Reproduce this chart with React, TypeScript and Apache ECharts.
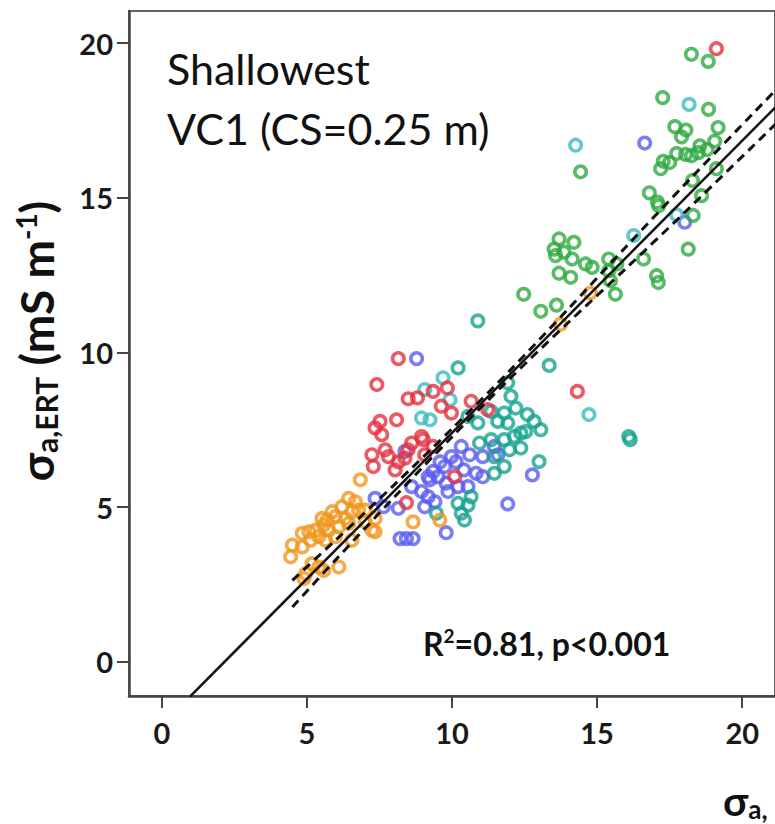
import React, { useEffect, useRef } from "react";
import * as echarts from "echarts";

// ---- data (x = σa,EMI-like axis, y = σa,ERT) ----
const orangePts: [number, number][] = [
  [14.77, 11.92], [13.74, 10.91], [8.66, 4.52], [9.58, 4.58], [6.84, 5.88], [6.44, 5.28],
  [6.67, 5.17], [6.21, 5.01], [5.87, 4.85], [5.98, 4.69], [5.7, 4.58], [5.52, 4.63],
  [6.33, 4.63], [6.55, 4.85], [6.78, 4.9], [7.01, 4.9], [5.58, 4.42], [5.3, 4.25],
  [5.75, 4.25], [6.1, 4.36], [6.44, 4.47], [5.07, 4.2], [4.84, 4.15], [5.13, 3.93],
  [4.84, 3.71], [4.5, 3.77], [4.44, 3.39], [5.41, 4.04], [5.64, 3.93], [5.98, 4.04],
  [7.24, 4.25], [7.35, 4.63], [7.01, 4.52], [5.18, 3.17], [5.41, 3.06], [5.58, 2.95],
  [4.96, 2.85], [4.9, 2.69], [6.1, 3.06], [6.55, 3.93], [7.35, 4.2],
];
const redPts: [number, number][] = [
  [19.11, 19.82], [14.32, 8.74], [11.23, 8.15], [8.15, 9.8], [7.41, 8.96], [8.49, 8.5],
  [8.81, 8.53], [9.35, 8.74], [9.84, 8.85], [9.63, 8.26], [9.98, 8.04], [10.66, 8.42],
  [7.52, 7.77], [8.09, 7.82], [7.35, 7.56], [7.58, 7.34], [7.24, 6.69], [7.7, 6.85],
  [7.29, 6.31], [8.04, 6.2], [8.38, 6.58], [8.15, 6.46], [8.61, 7.07], [9.01, 7.18],
  [9.35, 6.96], [10.09, 5.98], [8.43, 5.14], [7.81, 6.63], [8.95, 7.28], [9.06, 6.69],
  [8.49, 6.85],
];
const bluePts: [number, number][] = [
  [16.64, 16.77], [18.02, 14.21], [8.78, 9.8], [12.77, 6.04], [11.92, 5.1], [10.32, 6.96],
  [10.61, 6.69], [9.98, 6.63], [9.75, 6.31], [9.35, 6.15], [9.52, 5.98], [9.24, 5.88],
  [9.8, 5.77], [10.21, 5.66], [10.55, 5.66], [10.83, 6.09], [11.06, 5.98], [11.06, 6.63],
  [11.46, 6.96], [11.58, 6.69], [8.95, 5.5], [9.18, 5.33], [9.41, 5.17], [9.06, 5.01],
  [9.86, 5.5], [8.61, 5.66], [8.38, 6.8], [7.35, 5.28], [7.64, 5.01], [8.15, 4.96],
  [9.8, 4.17], [8.21, 3.98], [8.43, 3.98], [8.66, 3.98], [9.18, 5.98], [9.59, 6.46],
  [10.14, 6.46], [10.41, 6.2],
];
const tealPts: [number, number][] = [
  [13.35, 9.58], [16.09, 7.28], [16.14, 7.18], [11.92, 9.02], [12.03, 8.58], [12.2, 8.2],
  [11.8, 8.04], [11.58, 7.77], [12.6, 7.99], [12.83, 7.77], [13.06, 7.5], [12.37, 7.39],
  [12.15, 7.28], [10.21, 9.5], [10.89, 11.02], [10.55, 7.93], [10.89, 7.72], [11.35, 8.09],
  [11.92, 7.72], [12.54, 7.44], [10.95, 7.07], [11.35, 7.18], [11.8, 7.18], [11.98, 6.85],
  [12.37, 6.91], [11.46, 6.63], [11.8, 6.31], [11.46, 6.09], [13.0, 6.47], [10.21, 5.12],
  [10.55, 5.06], [10.32, 4.8], [10.43, 4.58], [10.66, 5.33], [9.46, 4.8],
];
const cyanPts: [number, number][] = [
  [14.26, 16.7], [18.17, 18.02], [17.74, 14.45], [16.26, 13.78], [14.72, 7.99],
  [9.69, 9.18], [9.06, 8.8], [8.95, 7.88], [9.24, 7.82], [9.93, 8.47],
];
const greenPts: [number, number][] = [
  [18.25, 19.64], [18.83, 19.41], [17.26, 18.24], [18.84, 17.86], [17.68, 17.3], [18.06, 17.19],
  [17.91, 16.97], [19.17, 17.27], [19.05, 16.83], [18.54, 16.68], [18.79, 16.56], [18.05, 16.4],
  [18.25, 16.36], [17.74, 16.43], [18.49, 16.46], [17.28, 16.18], [17.5, 16.14], [17.19, 15.94],
  [19.11, 15.94], [18.29, 15.56], [16.8, 15.16], [18.6, 15.07], [17.08, 14.86], [17.12, 14.74],
  [14.43, 15.84], [18.31, 14.43], [18.14, 13.34], [13.69, 13.67], [14.2, 13.56], [13.52, 13.34],
  [13.57, 13.13], [13.86, 13.24], [14.14, 13.02], [13.69, 12.56], [14.09, 12.43], [14.6, 12.86],
  [14.83, 12.75], [15.4, 13.02], [15.4, 12.64], [15.68, 12.86], [15.46, 12.32], [15.63, 11.88],
  [16.6, 13.02], [17.05, 12.48], [17.11, 12.26], [12.47, 11.88], [13.06, 11.33], [13.6, 11.53],
];

// regression fit and its confidence band
const fitX = [0.97, 21.2];
const fitY = [-1.13, 17.98];
const bandX = [4.5, 6, 8, 10, 12, 14, 16, 18, 21.2];
const bandUpper = [2.63, 3.94, 5.71, 7.53, 9.42, 11.4, 13.42, 15.41, 18.53];
const bandLower = [1.77, 3.3, 5.31, 7.27, 9.16, 10.96, 12.72, 14.51, 17.43];

const tickValues = [0, 5, 10, 15, 20];

const COLORS = {
  orange: "#f0961e",
  red: "#e6323e",
  blue: "#5a5cf0",
  teal: "#17a290",
  cyan: "#3dbcc0",
  green: "#2eaa40",
};

const FONT = "Lato, 'Open Sans', sans-serif";

function scatter(name: string, pts: [number, number][], color: string) {
  return {
    name,
    type: "scatter",
    data: pts,
    symbol: "circle",
    symbolSize: 11.5,
    silent: true,
    itemStyle: { color: "rgba(0,0,0,0)", borderColor: color, borderWidth: 3.6 },
  };
}

function zip(xs: number[], ys: number[]) {
  return xs.map((x, i) => [x, ys[i]]);
}

export default function App() {
  const ref = useRef<HTMLDivElement>(null);
  useEffect(() => {
    document.body.style.margin = "0";
    const chart = echarts.init(ref.current!, undefined, { renderer: "svg" });
    const axisCommon = {
      type: "value",
      axisLine: { show: true, onZero: false, lineStyle: { color: "#444", width: 2.5 } },
      axisTick: { show: true, length: 12, customValues: tickValues, lineStyle: { color: "#444", width: 2 } },
      splitLine: { show: false },
      axisLabel: {
        customValues: tickValues,
        color: "#1a1a1a",
        fontFamily: FONT,
        fontWeight: "bold",
        fontSize: 29,
      },
    };
    chart.setOption({
      animation: false,
      backgroundColor: "#ffffff",
      grid: {
        left: 129,
        top: 11,
        width: 650,
        height: 685,
        show: true,
        borderColor: "#666",
        borderWidth: 2,
      },
      xAxis: {
        ...axisCommon,
        min: -1.13,
        max: 21.13,
        axisLabel: { ...axisCommon.axisLabel, margin: 22 },
      },
      yAxis: {
        ...axisCommon,
        min: -1.11,
        max: 21.04,
        axisLabel: { ...axisCommon.axisLabel, margin: 16 },
      },
      series: [
        scatter("blue", bluePts, COLORS.blue),
        scatter("teal", tealPts, COLORS.teal),
        scatter("cyan", cyanPts, COLORS.cyan),
        scatter("orange", orangePts, COLORS.orange),
        scatter("red", redPts, COLORS.red),
        scatter("green", greenPts, COLORS.green),
        {
          type: "line",
          data: zip(fitX, fitY),
          showSymbol: false,
          silent: true,
          lineStyle: { color: "#111", width: 2.5 },
        },
        {
          type: "line",
          data: zip(bandX, bandUpper),
          showSymbol: false,
          silent: true,
          smooth: 0.3,
          lineStyle: { color: "#111", width: 3, type: [9, 6] },
        },
        {
          type: "line",
          data: zip(bandX, bandLower),
          showSymbol: false,
          silent: true,
          smooth: 0.3,
          lineStyle: { color: "#111", width: 3, type: [9, 6] },
        },
      ],
      graphic: [
        {
          type: "text",
          x: 167,
          y: 68,
          style: { text: "Shallowest", fontFamily: FONT, fontSize: 43, fill: "#111", verticalAlign: "middle" },
        },
        {
          type: "text",
          x: 167,
          y: 128,
          style: { text: "VC1 (CS=0.25 m)", fontFamily: FONT, fontSize: 43, fill: "#111", verticalAlign: "middle" },
        },
        {
          type: "text",
          x: 423,
          y: 643,
          style: {
            text: "{m|R}{sup|2}{m|=0.81, p<0.001}",
            fill: "#111",
            verticalAlign: "middle",
            rich: {
              m: { fontFamily: FONT, fontWeight: "bold", fontSize: 32, fill: "#111" },
              sup: { fontFamily: FONT, fontWeight: "bold", fontSize: 19, fill: "#111", padding: [0, 0, 16, 0] },
            },
          },
        },
        {
          type: "text",
          x: 36,
          y: 341,
          rotation: Math.PI / 2,
          style: {
            text: "{m|σ}{sub|a,ERT}{m| (mS m}{sup|-1}{m|)}",
            fill: "#111",
            align: "center",
            verticalAlign: "middle",
            rich: {
              m: { fontFamily: FONT, fontWeight: "bold", fontSize: 46, fill: "#111" },
              sub: { fontFamily: FONT, fontWeight: "bold", fontSize: 30, fill: "#111", padding: [19, 0, 0, 0] },
              sup: { fontFamily: FONT, fontWeight: "bold", fontSize: 28, fill: "#111", padding: [0, 0, 21, 0] },
            },
          },
        },
        {
          type: "text",
          x: 723,
          y: 800,
          style: {
            text: "{m|σ}{sub|a,}",
            fill: "#111",
            verticalAlign: "middle",
            rich: {
              m: { fontFamily: FONT, fontWeight: "bold", fontSize: 41, fill: "#111" },
              sub: { fontFamily: FONT, fontWeight: "bold", fontSize: 26, fill: "#111", padding: [17, 0, 0, 0] },
            },
          },
        },
      ],
    });
    return () => chart.dispose();
  }, []);
  return <div ref={ref} style={{ width: 775, height: 824 }} />;
}
